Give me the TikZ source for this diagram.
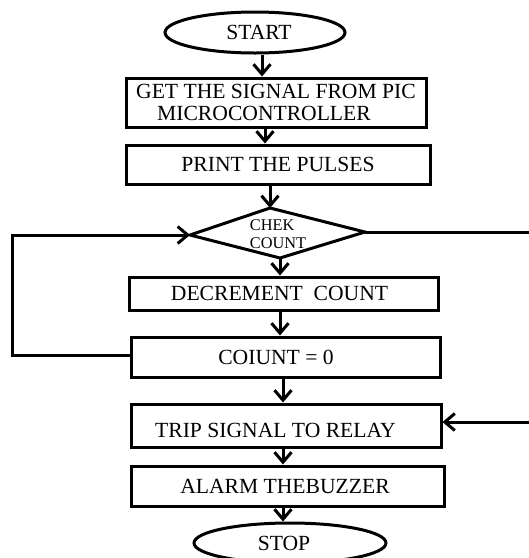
\documentclass[tikz,border=0pt]{standalone}
\usepackage{fontspec}
\setmainfont{Liberation Serif}
\usetikzlibrary{arrows.meta,shapes.geometric}
\begin{document}
\begin{tikzpicture}[x=1pt,y=-1pt,
  line width=3pt,
  box/.style={draw, rectangle, inner sep=0pt, font=\fontsize{21.6}{22}\selectfont, align=center},
  term/.style={draw, ellipse, inner sep=0pt, font=\fontsize{21.6}{22}\selectfont},
  arr/.style={-{Straight Barb[length=10pt,width=17pt]}},
]
\useasboundingbox (0,0) rectangle (529,558);
\node[term, minimum width=180pt, minimum height=41pt] (st) at (255,32.5) {\hspace*{8pt}START};
\node[box, align=left, minimum width=300pt, minimum height=49pt] (b1) at (276,102.5) {GET THE SIGNAL FROM PIC\\\hspace*{21pt}MICROCONTROLLER};
\node[box, minimum width=304pt, minimum height=39pt] (b2) at (278,164.5) {PRINT THE PULSES};
\coordinate (dT) at (270,208);
\coordinate (dL) at (190,235);
\coordinate (dR) at (365,232);
\coordinate (dB) at (280,258);
\draw (dT) -- (dR) -- (dB) -- (dL) -- cycle;
\node[font=\fontsize{16.3}{18}\selectfont, align=left, inner sep=0pt] (dtxt) at (278,234) {CHEK\\COUNT};
\node[box, minimum width=309pt, minimum height=33pt] (b3) at (283.5,293.5) {DECREMENT\ \ COUNT\hspace*{8pt}};
\node[box, minimum width=309pt, minimum height=40pt] (b4) at (285.5,357) {COIUNT = 0\hspace*{19pt}};
\node[box, minimum width=310pt, minimum height=43pt] (b5) at (286,425.5) {\raisebox{-4.5pt}[\height][\depth]{TRIP SIGNAL TO RELAY}\hspace*{21pt}};
\node[box, minimum width=313pt, minimum height=40pt] (b6) at (287.5,486) {ALARM THEBUZZER\hspace*{5pt}};
\node[term, minimum width=192pt, minimum height=40pt] (sp) at (290,543) {STOP\hspace*{12pt}};
\draw[arr] ([xshift=7pt]st.south) -- ([xshift=-14pt]b1.north);
\draw[arr] ([xshift=-11pt]b1.south) -- ([xshift=-13pt]b2.north);
\draw[arr] (b2.south -| dT) -- (dT);
\draw[arr] (dB) -- (dB |- b3.north);
\draw[arr] ([xshift=-3.5pt]b3.south) -- ([xshift=-5.5pt]b4.north);
\draw[arr] ([xshift=-2.5pt]b4.south) -- ([xshift=-3pt]b5.north);
\draw[arr] ([xshift=-3pt]b5.south) -- ([xshift=-4.5pt]b6.north);
\draw[arr] ([xshift=-4.5pt]b6.south) -- ([xshift=-7pt]sp.north);
\draw[arr] ([yshift=2pt]b4.west) -- ++(-117pt,0) |- (dL);
\draw[arr] (dR) -- ++(170pt,0) |- ([yshift=3.5pt]b5.east);
\end{tikzpicture}
\end{document}
